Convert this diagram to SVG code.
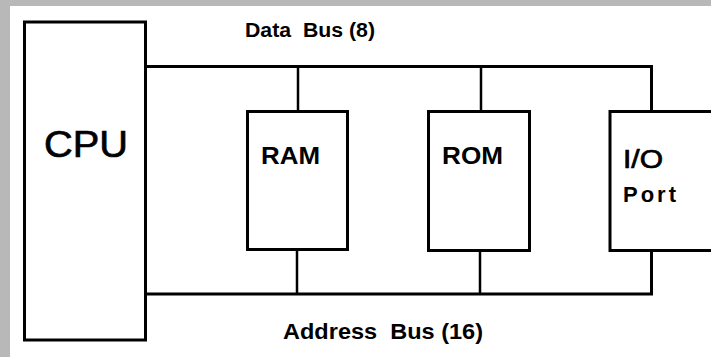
<svg xmlns="http://www.w3.org/2000/svg" width="711" height="357" viewBox="0 0 711 357">
<style>
.box{fill:#fff;stroke:#000;stroke-width:3}
.bus{fill:none;stroke:#000;stroke-width:3}
.stub{fill:none;stroke:#000;stroke-width:2.5}
text{font-family:"Liberation Sans",Arial,sans-serif;fill:#000;white-space:pre}
.b{font-weight:bold}
.m{stroke:#000;stroke-width:0.7}
</style>
<rect x="0" y="0" width="711" height="357" fill="#b8b8b8"/>
<rect x="10" y="6" width="701" height="351" fill="#fff"/>
<g id="connectors">
<path class="bus" d="M146 66.5H651.5V111.5"/>
<path class="stub" d="M298 66.5V111.5"/>
<path class="stub" d="M481 66.5V111.5"/>
<path class="bus" d="M146 294H651.5V250"/>
<path class="stub" d="M297 294V250"/>
<path class="stub" d="M480 294V250"/>
</g>
<g id="cpu">
<rect class="box" x="24.5" y="22" width="121" height="318"/>
<text class="m" x="44" y="157" font-size="37" textLength="84" lengthAdjust="spacingAndGlyphs">CPU</text>
</g>
<g id="ram">
<rect class="box" x="247.5" y="111.5" width="100" height="138"/>
<text class="b" x="261" y="164" font-size="24" textLength="59" lengthAdjust="spacingAndGlyphs">RAM</text>
</g>
<g id="rom">
<rect class="box" x="428.5" y="111.5" width="101" height="139"/>
<text class="b" x="442" y="164" font-size="24" textLength="61" lengthAdjust="spacingAndGlyphs">ROM</text>
</g>
<g id="io">
<rect class="box" x="610" y="111.5" width="110" height="139"/>
<text class="m" x="623" y="168" font-size="25" textLength="40" lengthAdjust="spacingAndGlyphs">I/O</text>
<text class="b" x="623" y="201.5" font-size="22" textLength="53" lengthAdjust="spacing">Port</text>
</g>
<g id="labels">
<text class="b" x="245" y="37" font-size="19.5" textLength="130" lengthAdjust="spacingAndGlyphs" xml:space="preserve">Data  Bus (8)</text>
<text class="b" x="283" y="339" font-size="21.5" textLength="200" lengthAdjust="spacingAndGlyphs" xml:space="preserve">Address  Bus (16)</text>
</g>
</svg>
